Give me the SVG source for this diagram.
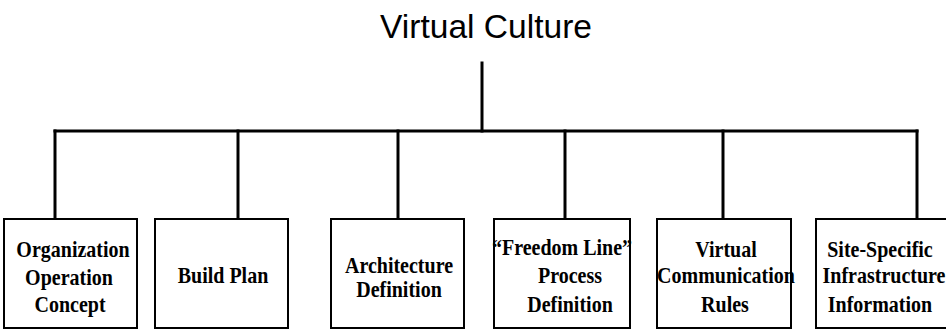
<svg xmlns="http://www.w3.org/2000/svg" width="946" height="331" viewBox="0 0 946 331">
<style>
.box{fill:#fff;stroke:#000;stroke-width:2}
.c{stroke:#000;stroke-width:3;fill:none;stroke-linecap:square}
.t{font-family:"Liberation Serif","Times New Roman",serif;font-weight:bold;font-size:20px;text-anchor:middle;fill:#000}
.title{font-family:"Liberation Sans",Arial,sans-serif;font-size:33px;text-anchor:middle;fill:#000}
</style>
<rect width="946" height="331" fill="#fff"/>
<g id="root"><text class="title" x="486" y="38" textLength="212" lengthAdjust="spacingAndGlyphs">Virtual Culture</text></g>
<g id="connectors">
<path class="c" d="M482,63 V131"/>
<path class="c" d="M55,131 H917"/>
<path class="c" d="M55,131 V219"/>
<path class="c" d="M238,131 V219"/>
<path class="c" d="M398,131 V219"/>
<path class="c" d="M565,131 V219"/>
<path class="c" d="M723,131 V219"/>
<path class="c" d="M917,131 V219"/>
</g>
<g id="n1"><rect class="box" x="4" y="219" width="133" height="109"/>
<text class="t" transform="scale(1,1.15)"><tspan x="73" y="223.5">Organization</tspan><tspan x="69" y="247.5">Operation</tspan><tspan x="70" y="271">Concept</tspan></text></g>
<g id="n2"><rect class="box" x="155" y="219" width="133" height="109"/>
<text class="t" transform="scale(1,1.15)"><tspan x="223" y="246">Build Plan</tspan></text></g>
<g id="n3"><rect class="box" x="331" y="219" width="133" height="109"/>
<text class="t" transform="scale(1,1.15)"><tspan x="399" y="237.5">Architecture</tspan><tspan x="399" y="258.5">Definition</tspan></text></g>
<g id="n4"><rect class="box" x="494" y="219" width="136" height="109"/>
<text class="t" transform="scale(1,1.15)"><tspan x="562" y="222">“Freedom Line”</tspan><tspan x="570" y="246">Process</tspan><tspan x="570" y="271">Definition</tspan></text></g>
<g id="n5"><rect class="box" x="657" y="219" width="134" height="109"/>
<text class="t" transform="scale(1,1.15)"><tspan x="726" y="223.5">Virtual</tspan><tspan x="726" y="246">Communication</tspan><tspan x="725" y="271">Rules</tspan></text></g>
<g id="n6"><rect class="box" x="816" y="219" width="136" height="109"/>
<text class="t" transform="scale(1,1.15)"><tspan x="880" y="223.5">Site-Specific</tspan><tspan x="884" y="246">Infrastructure</tspan><tspan x="880" y="271">Information</tspan></text></g>
</svg>
